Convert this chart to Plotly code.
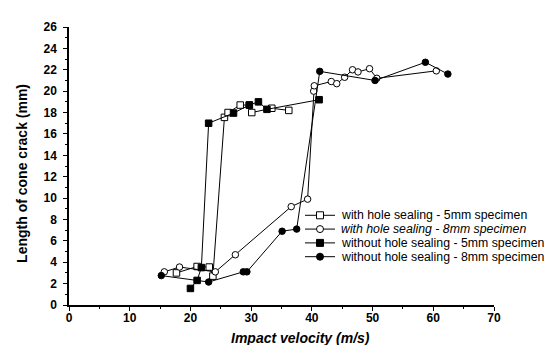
import plotly.graph_objects as go

# ---- data ----
v_hs5 = [17.7, 21.1, 23.1, 23.7, 25.6, 26.2, 28.2, 29.7, 30.1, 33.4, 36.2]
l_hs5 = [3.0, 3.6, 3.55, 2.7, 17.55, 18.0, 18.7, 18.7, 18.0, 18.4, 18.2]

v_hs8 = [15.7, 18.2, 24.1, 27.4, 36.6, 39.3, 40.3, 40.4, 43.2, 44.1, 45.4, 46.7, 47.6, 49.5, 50.7, 60.5]
l_hs8 = [3.1, 3.55, 3.1, 4.7, 9.2, 9.9, 20.0, 20.5, 20.9, 20.7, 21.3, 22.0, 21.8, 22.1, 21.2, 21.9]

v_ns5 = [20.0, 21.1, 21.8, 23.0, 27.1, 29.7, 31.2, 32.6, 41.2]
l_ns5 = [1.55, 2.3, 3.5, 17.0, 17.95, 18.7, 19.0, 18.3, 19.2]

v_ns8 = [15.2, 23.0, 28.7, 29.3, 35.1, 37.5, 41.3, 50.4, 58.7, 62.4]
l_ns8 = [2.75, 2.15, 3.1, 3.1, 6.9, 7.1, 21.85, 21.0, 22.7, 21.6]

names = ["with hole sealing - 5mm specimen",
         "<i>with hole sealing - 8mm specimen</i>",
         "without hole sealing - 5mm specimen",
         "without hole sealing - 8mm specimen"]

x_ticks = [0, 10, 20, 30, 40, 50, 60, 70]
y_ticks = list(range(0, 27, 2))

FONT = "Liberation Sans, Arial, sans-serif"

series = [
    (v_hs5, l_hs5, "square", "white"),
    (v_hs8, l_hs8, "circle", "white"),
    (v_ns5, l_ns5, "square", "black"),
    (v_ns8, l_ns8, "circle", "black"),
]

fig = go.Figure()
for (xs, ys, sym, fill), nm in zip(series, names):
    fig.add_trace(go.Scatter(
        x=xs, y=ys, mode="lines+markers", name=nm, showlegend=False,
        line=dict(color="black", width=1),
        marker=dict(symbol=sym, size=6.5, color=fill, line=dict(color="black", width=1)),
    ))

# plot area in pixels
L, R, T, B = 61, 486, 15, 297
def xp(px): return (px - L) / (R - L)
def yp(py): return (B - py) / (B - T)

shapes = []
annotations = []
rows = [206, 220, 234, 248]
for (xs, ys, sym, fill), nm, ry in zip(series, names, rows):
    shapes.append(dict(type="line", xref="paper", yref="paper",
                       x0=xp(297), x1=xp(327), y0=yp(ry), y1=yp(ry),
                       line=dict(color="black", width=1)))
    shapes.append(dict(type="rect" if sym == "square" else "circle",
                       xref="paper", yref="paper",
                       xsizemode="pixel", ysizemode="pixel",
                       xanchor=xp(312), yanchor=yp(ry),
                       x0=-3.5, x1=3.5, y0=-3.5, y1=3.5,
                       fillcolor=fill, line=dict(color="black", width=1)))
    annotations.append(dict(text=nm, xref="paper", yref="paper",
                            x=xp(331), y=yp(ry), xanchor="left", yanchor="middle",
                            showarrow=False, font=dict(family=FONT, size=12.3, color="black")))

annotations.append(dict(text="Length of cone crack (mm)", textangle=-90,
                        xref="paper", yref="paper", x=xp(14), y=yp(164),
                        xanchor="center", yanchor="middle", showarrow=False,
                        font=dict(family=FONT, size=14, color="black", weight="bold")))
annotations.append(dict(text="<i>Impact velocity (m/s)</i>",
                        xref="paper", yref="paper", x=xp(292), y=yp(330),
                        xanchor="center", yanchor="middle", showarrow=False,
                        font=dict(family=FONT, size=14, color="black", weight="bold")))

axis_common = dict(showline=True, linecolor="black", linewidth=1.5, mirror=False,
                   ticks="outside", ticklen=4, tickwidth=1.2, tickcolor="black",
                   showgrid=False, zeroline=False,
                   tickfont=dict(family=FONT, size=12, color="black", weight="bold"))

fig.update_layout(
    width=552, height=345,
    margin=dict(l=L, r=552 - R, t=T, b=345 - B),
    paper_bgcolor="white", plot_bgcolor="white",
    xaxis=dict(range=[0, 70], tickvals=x_ticks, ticklabelstandoff=-3,
               minor=dict(ticks="outside", ticklen=2, dtick=5, tickcolor="black", tickwidth=1),
               **axis_common),
    yaxis=dict(range=[0, 26], tickvals=y_ticks, ticklabelstandoff=4,
               minor=dict(ticks="outside", ticklen=2, dtick=1, tickcolor="black", tickwidth=1),
               **axis_common),
    shapes=shapes, annotations=annotations,
)

fig.write_html("out.html")
